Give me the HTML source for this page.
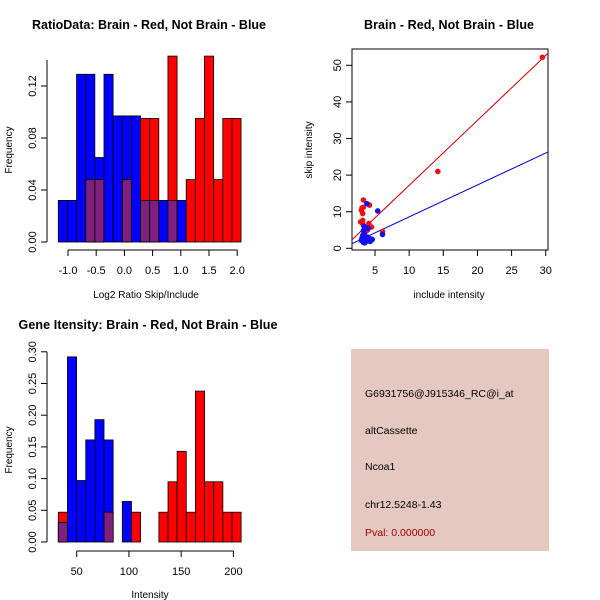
<!DOCTYPE html>
<html><head><meta charset="utf-8"><style>
body{margin:0;background:#fff}
svg{display:block;font-family:"Liberation Sans",sans-serif}
</style></head><body>
<svg id="c" width="600" height="600" viewBox="0 0 600 600">
<rect x="0" y="0" width="600" height="600" fill="#fff"/>
<text x="149" y="29" font-size="12.5" font-weight="bold" text-anchor="middle" textLength="234">RatioData: Brain - Red, Not Brain - Blue</text>
<text x="146" y="298" font-size="10" text-anchor="middle">Log2 Ratio Skip/Include</text>
<text x="12" y="150" font-size="10" text-anchor="middle" transform="rotate(-90 12 150)">Frequency</text>
<text x="449" y="29" font-size="12.5" font-weight="bold" text-anchor="middle" textLength="170">Brain - Red, Not Brain - Blue</text>
<text x="449" y="298" font-size="10" text-anchor="middle">include intensity</text>
<text x="312" y="150" font-size="10" text-anchor="middle" transform="rotate(-90 312 150)">skip intensity</text>
<text x="148" y="329" font-size="12.5" font-weight="bold" text-anchor="middle" textLength="259">Gene Itensity: Brain - Red, Not Brain - Blue</text>
<text x="150" y="598" font-size="10" text-anchor="middle">Intensity</text>
<text x="12" y="450" font-size="10" text-anchor="middle" transform="rotate(-90 12 450)">Frequency</text>
<g>
<rect x="351" y="349" width="198" height="202" fill="#e5c8c0"/>
<text x="365" y="397" font-size="10.5">G6931756@J915346_RC@i_at</text>
<text x="365" y="434" font-size="10.5">altCassette</text>
<text x="365" y="470" font-size="10.5">Ncoa1</text>
<text x="365" y="508" font-size="10.5">chr12.5248-1.43</text>
<text x="365" y="536" font-size="10.5" fill="#a00000">Pval: 0.000000</text>
</g>
</svg>
<script>
// Ratio histogram data
const ratioBlue=[0.032,0.032,0.129,0.129,0.065,0.129,0.097,0.097,0.097,0.032,0.032,0.032,0.032,0.032,0,0,0,0,0,0];
const ratioRed=[0,0,0,0.048,0.048,0,0,0.048,0,0.095,0.095,0,0.143,0,0.048,0.095,0.143,0.048,0.095,0.095];
const ratioStart=-1.172, ratioWidth=0.162;
const ratioXTicks=[-1.0,-0.5,0.0,0.5,1.0,1.5,2.0];
const ratioYTicks=[0.00,0.04,0.08,0.12];
// Intensity histogram data
const intBlue=[0.031,0.292,0.097,0.161,0.193,0.161,0,0.064,0,0,0,0,0,0,0,0,0,0,0,0];
const intRed=[0.047,0,0,0,0,0.047,0,0,0.047,0,0,0.047,0.095,0.143,0.047,0.238,0.095,0.095,0.047,0.047];
const intStart=32.4, intWidth=8.75;
const intXTicks=[50,100,150,200];
const intYTicks=[0.00,0.05,0.10,0.15,0.20,0.25,0.30];
// Scatter data
const redX=[29.5,14.2,3.3,4.2,3.1,3.3,3.0,3.2,2.9,3.2,3.1,4.1,4.5,6.1,3.3,3.6,3.9];
const redY=[52.2,21.0,13.2,11.8,11.0,11.2,10.4,9.5,7.2,7.6,7.0,6.8,5.8,4.6,6.3,4.5,5.0];
const blueX=[3.8,5.4,3.4,4.0,6.1,3.0,3.2,3.3,3.5,3.6,3.7,3.9,4.1,4.3,4.5,3.2,3.4,3.6,3.8,4.0,3.1,3.3,3.5,4.2,4.6,3.3,3.7];
const blueY=[12.2,10.2,6.0,5.5,3.8,2.2,2.0,1.6,2.5,1.8,3.0,2.2,2.6,1.9,2.5,3.5,4.0,3.2,2.0,3.0,2.8,2.4,1.5,2.0,2.4,4.8,2.6];
const redFit=[-0.55,1.775], blueFit=[-0.15,0.873];
const scXTicks=[5,10,15,20,25,30], scYTicks=[0,10,20,30,40,50];

const NS='http://www.w3.org/2000/svg', svg=document.getElementById('c');
function mk(t,a,p){const e=document.createElementNS(NS,t);for(const k in a)e.setAttribute(k,a[k]);(p||svg).appendChild(e);return e;}

function hist(blue,red,start,width,sx,sy,xt,yt,yTop,axY,name,fmt){
  const g=mk('g',{});
  
  
  const n=blue.length;
  for(let i=0;i<n;i++){
    const x0=sx(start+i*width),x1=sx(start+(i+1)*width);
    if(blue[i]>0){const r=mk('rect',{x:x0,y:sy(blue[i]),width:x1-x0,height:sy(0)-sy(blue[i]),fill:'#0000ff',stroke:'#000','stroke-width':0.8},g);
      
      }
    if(red[i]>0){const r=mk('rect',{x:x0,y:sy(red[i]),width:x1-x0,height:sy(0)-sy(red[i]),fill:'#ff0000',stroke:'#000','stroke-width':0.8},g);
      
      }
    const m=Math.min(blue[i],red[i]);
    if(m>0){const r=mk('rect',{x:x0,y:sy(m),width:x1-x0,height:sy(0)-sy(m),fill:'#7f1f7f',stroke:'#000','stroke-width':0.8},g);
      
      }
  }
  mk('line',{x1:47,x2:47,y1:sy(0),y2:sy(yTop),stroke:'#000'},g);
  yt.forEach(v=>{mk('line',{x1:41,x2:47,y1:sy(v),y2:sy(v),stroke:'#000'},g);
    const t=mk('text',{x:36,y:sy(v),'font-size':11,'text-anchor':'middle',transform:`rotate(-90 36 ${sy(v)})`},g);t.textContent=v.toFixed(2);
    
    });
  mk('line',{x1:sx(xt[0]),x2:sx(xt[xt.length-1]),y1:axY,y2:axY,stroke:'#000'},g);
  xt.forEach(v=>{mk('line',{x1:sx(v),x2:sx(v),y1:axY,y2:axY+6,stroke:'#000'},g);
    const t=mk('text',{x:sx(v),y:axY+24,'font-size':11,'text-anchor':'middle'},g);t.textContent=fmt(v);
    
    });
}
hist(ratioBlue,ratioRed,ratioStart,ratioWidth,v=>68+(v+1)*56.4,v=>242-v*1300,ratioXTicks,ratioYTicks,0.14,250,'ratio-histogram',v=>v.toFixed(1));
hist(intBlue,intRed,intStart,intWidth,v=>76.7+(v-50)*1.0447,v=>542-v*634,intXTicks,intYTicks,0.30,551,'intensity-histogram',v=>String(v));

const sx=v=>375+(v-5)*6.83, sy=v=>248.3-v*3.66;
const g=mk('g',{});


const cp=mk('clipPath',{id:'cp'},g);mk('rect',{x:352,y:49,width:196,height:201},cp);
mk('rect',{x:352,y:49,width:196,height:201,fill:'none',stroke:'#000'},g);
const xmin=(352-375)/6.83+5,xmax=(548-375)/6.83+5;
const rl=mk('line',{x1:sx(xmin),y1:sy(redFit[0]+redFit[1]*xmin),x2:sx(xmax),y2:sy(redFit[0]+redFit[1]*xmax),stroke:'#cc0000','clip-path':'url(#cp)'},g);


const bl=mk('line',{x1:sx(xmin),y1:sy(blueFit[0]+blueFit[1]*xmin),x2:sx(xmax),y2:sy(blueFit[0]+blueFit[1]*xmax),stroke:'#0000cc','clip-path':'url(#cp)'},g);


redX.forEach((x,i)=>{const c=mk('circle',{cx:sx(x),cy:sy(redY[i]),r:2.8,fill:'#ee1111'},g);
  
  });
blueX.forEach((x,i)=>{const c=mk('circle',{cx:sx(x),cy:sy(blueY[i]),r:2.8,fill:'#1111ee'},g);
  
  });
scXTicks.forEach(v=>{mk('line',{x1:sx(v),x2:sx(v),y1:250,y2:256,stroke:'#000'},g);
  const t=mk('text',{x:sx(v),y:274,'font-size':11,'text-anchor':'middle'},g);t.textContent=v;
  
  });
scYTicks.forEach(v=>{mk('line',{x1:346,x2:352,y1:sy(v),y2:sy(v),stroke:'#000'},g);
  const t=mk('text',{x:341,y:sy(v),'font-size':11,'text-anchor':'middle',transform:`rotate(-90 341 ${sy(v)})`},g);t.textContent=v;
  
  });
</script>
</body></html>
